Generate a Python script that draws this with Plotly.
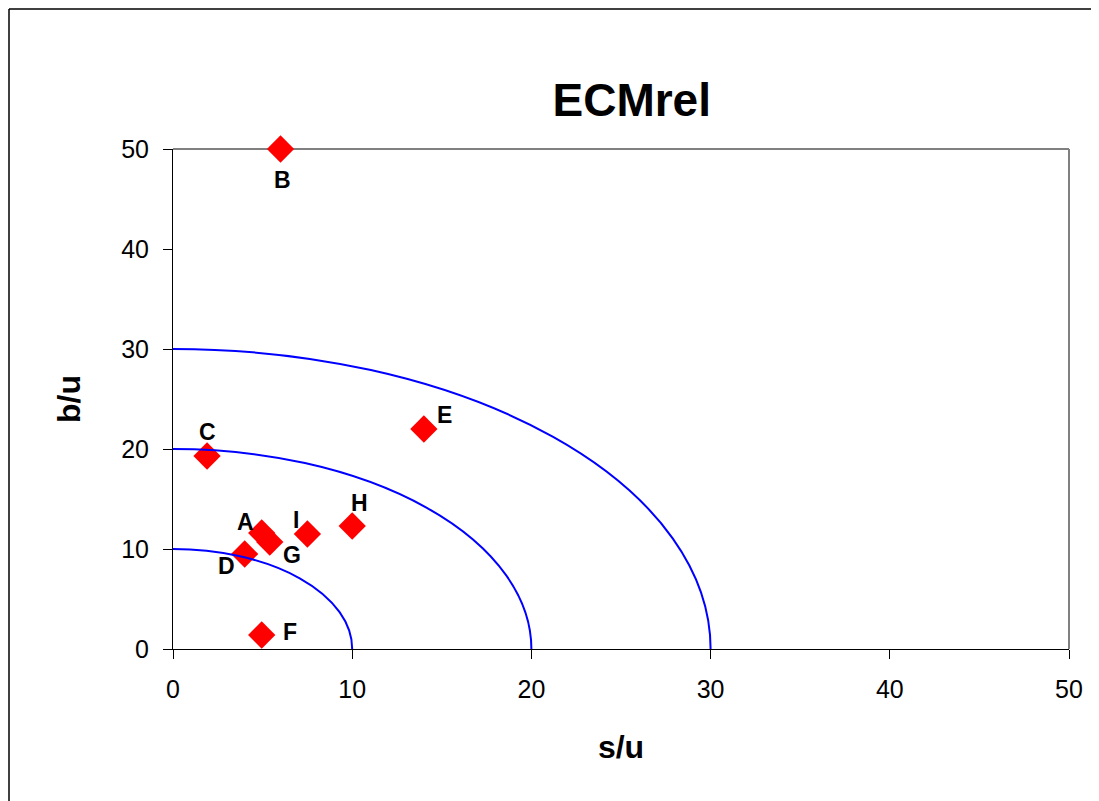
import plotly.graph_objects as go

labels = ["A", "B", "C", "D", "E", "F", "G", "H", "I"]
s_u = [4.95, 6.0, 1.9, 4.0, 14.0, 4.95, 5.4, 10.0, 7.5]
b_u = [11.6, 50.0, 19.3, 9.5, 22.0, 1.4, 10.7, 12.3, 11.5]
radii = [10, 20, 30]
x_ticks = [0, 10, 20, 30, 40, 50]
y_ticks = [0, 10, 20, 30, 40, 50]

# label offsets in pixels (styling)
offsets = {"A": (-16, 11), "B": (2, -31), "C": (0, 24), "D": (-18, -12),
           "E": (21, 14), "F": (28, 3), "G": (22, -13), "H": (7, 23), "I": (-11, 14)}

FONT = "Liberation Sans, Arial, sans-serif"

fig = go.Figure()
fig.add_trace(go.Scatter(
    x=s_u, y=b_u, mode="markers",
    marker=dict(symbol="diamond", size=21, color="#ff0000", line=dict(width=0)),
    hoverinfo="x+y", showlegend=False, cliponaxis=False,
))

annotations = []
for lab, xv, yv in zip(labels, s_u, b_u):
    dx, dy = offsets[lab]
    annotations.append(dict(x=xv, y=yv, xref="x", yref="y", text="<b>%s</b>" % lab,
                            showarrow=False, xshift=dx, yshift=dy,
                            font=dict(family=FONT, size=23, color="black")))

shapes = []
for r in radii:
    shapes.append(dict(type="circle", xref="x", yref="y", x0=-r, x1=r, y0=-r, y1=r,
                       line=dict(color="#0000ff", width=2), layer="above"))
# gray top and right borders of plot area
shapes.append(dict(type="line", xref="paper", yref="paper", x0=0, x1=1, y0=1, y1=1,
                   line=dict(color="#808080", width=2), layer="below"))
shapes.append(dict(type="line", xref="paper", yref="paper", x0=1, x1=1, y0=0, y1=1,
                   line=dict(color="#808080", width=2), layer="below"))
# outer frame (left and top)
W, H = 1091, 793
L, R, T, B = 165, 30, 141, 152
pw, ph = W - L - R, H - T - B
fx = (1 - L) / pw
fy = (ph + T - 1) / ph
shapes.append(dict(type="line", xref="paper", yref="paper", x0=fx, x1=fx,
                   y0=-B / ph, y1=fy, line=dict(color="black", width=1.5)))
shapes.append(dict(type="line", xref="paper", yref="paper", x0=fx, x1=(W - L) / pw,
                   y0=fy, y1=fy, line=dict(color="black", width=1.5)))

fig.update_layout(
    width=W, height=H,
    margin=dict(l=L, r=R, t=T, b=B),
    paper_bgcolor="white", plot_bgcolor="white",
    font=dict(family=FONT, color="black"),
    title=dict(text="<b>ECMrel</b>", x=0.512, xref="paper", xanchor="center",
               y=1 - 92 / H, yref="container", yanchor="middle",
               font=dict(family=FONT, size=46, color="black")),
    xaxis=dict(range=[0, 50], tickvals=x_ticks, ticktext=[str(v) for v in x_ticks],
               showgrid=False, zeroline=False, showline=True, linecolor="black", linewidth=1,
               ticks="outside", ticklen=9, tickcolor="black", tickwidth=1,
               tickfont=dict(family=FONT, size=25, color="black"),
               ticklabelstandoff=9,
               title=dict(text="<b>s/u</b>", font=dict(family=FONT, size=32, color="black"),
                          standoff=33)),
    yaxis=dict(range=[0, 50], tickvals=y_ticks, ticktext=[str(v) for v in y_ticks],
               showgrid=False, zeroline=False, showline=True, linecolor="black", linewidth=1,
               ticks="outside", ticklen=9, tickcolor="black", tickwidth=1,
               tickfont=dict(family=FONT, size=25, color="black"),
               ticklabelstandoff=9,
               title=dict(text="<b>b/u</b>", font=dict(family=FONT, size=32, color="black"),
                          standoff=30)),
    annotations=annotations, shapes=shapes,
)

fig.write_html("out.html")
